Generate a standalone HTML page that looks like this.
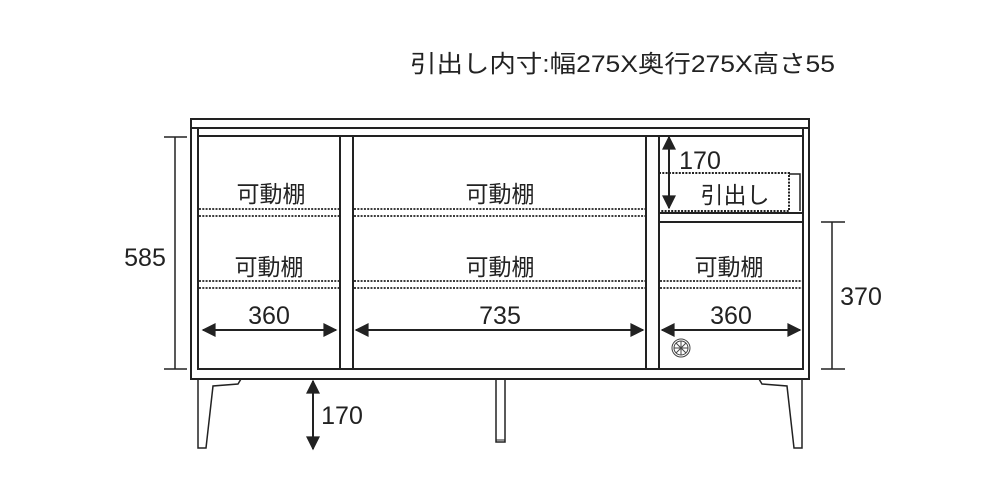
<!DOCTYPE html>
<html><head><meta charset="utf-8"><style>
html,body{margin:0;padding:0;background:#fff;}
svg{display:block;}
text{font-family:"Liberation Sans","Noto Sans CJK JP",sans-serif;fill:#222;}
</style></head><body>
<svg width="1000" height="500" viewBox="0 0 1000 500" xmlns="http://www.w3.org/2000/svg">
<defs>
<marker id="ah" viewBox="0 0 10 10" refX="9" refY="5" markerWidth="8" markerHeight="7" orient="auto-start-reverse"><path d="M0,0 L10,5 L0,10 z" fill="#222"/></marker>
</defs>
<text x="410" y="72" font-size="24" textLength="425" lengthAdjust="spacingAndGlyphs">引出し内寸:幅275X奥行275X高さ55</text>
<g fill="none" stroke="#222" stroke-width="2">
<rect x="191" y="119" width="618" height="9"/>
<rect x="191" y="128" width="618" height="251"/>
<rect x="198" y="136" width="605" height="233"/>
<line x1="198" y1="128" x2="198" y2="136"/>
<line x1="803" y1="128" x2="803" y2="136"/>
<rect x="340" y="136" width="13" height="233"/>
<rect x="646" y="136" width="13" height="233"/>
<rect x="659" y="213" width="144" height="9"/>
<polyline points="789,174 800,174 800,211" stroke-width="1.5"/>
<polygon points="198,379 198,448 206,448 213,386 238,384 241,379" stroke-width="1.5"/>
<polygon points="802,379 802,448 794,448 787,386 762,384 759,379" stroke-width="1.5"/>
<rect x="496" y="379" width="9" height="63" stroke-width="1.5"/>
<line x1="496" y1="440" x2="505" y2="440" stroke-width="1"/>
</g>
<g fill="none" stroke="#222" stroke-width="1.8" stroke-dasharray="2,1.3">
<line x1="199" y1="209" x2="339" y2="209"/><line x1="199" y1="216" x2="339" y2="216"/>
<line x1="354" y1="209" x2="645" y2="209"/><line x1="354" y1="216" x2="645" y2="216"/>
<line x1="199" y1="281" x2="339" y2="281"/><line x1="199" y1="288" x2="339" y2="288"/>
<line x1="354" y1="281" x2="645" y2="281"/><line x1="354" y1="288" x2="645" y2="288"/>
<line x1="660" y1="281" x2="802" y2="281"/><line x1="660" y1="288" x2="802" y2="288"/>
<rect x="659" y="173" width="130" height="38" stroke-width="2"/>
</g>
<g font-size="23" text-anchor="middle">
<text x="271" y="202">可動棚</text>
<text x="500" y="202">可動棚</text>
<text x="269" y="275">可動棚</text>
<text x="500" y="275">可動棚</text>
<text x="729" y="275">可動棚</text>
<text x="735" y="203">引出し</text>
</g>
<g font-size="25" text-anchor="middle">
<text x="269" y="324">360</text>
<text x="500" y="324">735</text>
<text x="731" y="324">360</text>
<text x="145" y="266">585</text>
<text x="861" y="305">370</text>
<text x="342" y="424">170</text>
<text x="700" y="169">170</text>
</g>
<g stroke="#222" stroke-width="2" fill="none">
<line x1="203" y1="330" x2="336" y2="330" marker-start="url(#ah)" marker-end="url(#ah)"/>
<line x1="356" y1="330" x2="643" y2="330" marker-start="url(#ah)" marker-end="url(#ah)"/>
<line x1="662" y1="330" x2="800" y2="330" marker-start="url(#ah)" marker-end="url(#ah)"/>
<line x1="313" y1="381" x2="313" y2="449" marker-start="url(#ah)" marker-end="url(#ah)"/>
<line x1="669" y1="137" x2="669" y2="208" marker-start="url(#ah)" marker-end="url(#ah)"/>
<line x1="175" y1="137" x2="175" y2="369" stroke-width="1.5"/>
<line x1="164" y1="137" x2="187" y2="137" stroke-width="1.5"/>
<line x1="164" y1="369" x2="187" y2="369" stroke-width="1.5"/>
<line x1="832" y1="222" x2="832" y2="369" stroke-width="1.5"/>
<line x1="821" y1="222" x2="845" y2="222" stroke-width="1.5"/>
<line x1="821" y1="369" x2="845" y2="369" stroke-width="1.5"/>
</g>
<g stroke="#444" stroke-width="1" fill="none">
<circle cx="681" cy="348" r="9"/><circle cx="681" cy="348" r="7"/>
<line x1="674" y1="348" x2="688" y2="348"/><line x1="681" y1="341" x2="681" y2="355"/>
<line x1="676" y1="343" x2="686" y2="353"/><line x1="686" y1="343" x2="676" y2="353"/>
</g>
</svg>
</body></html>
